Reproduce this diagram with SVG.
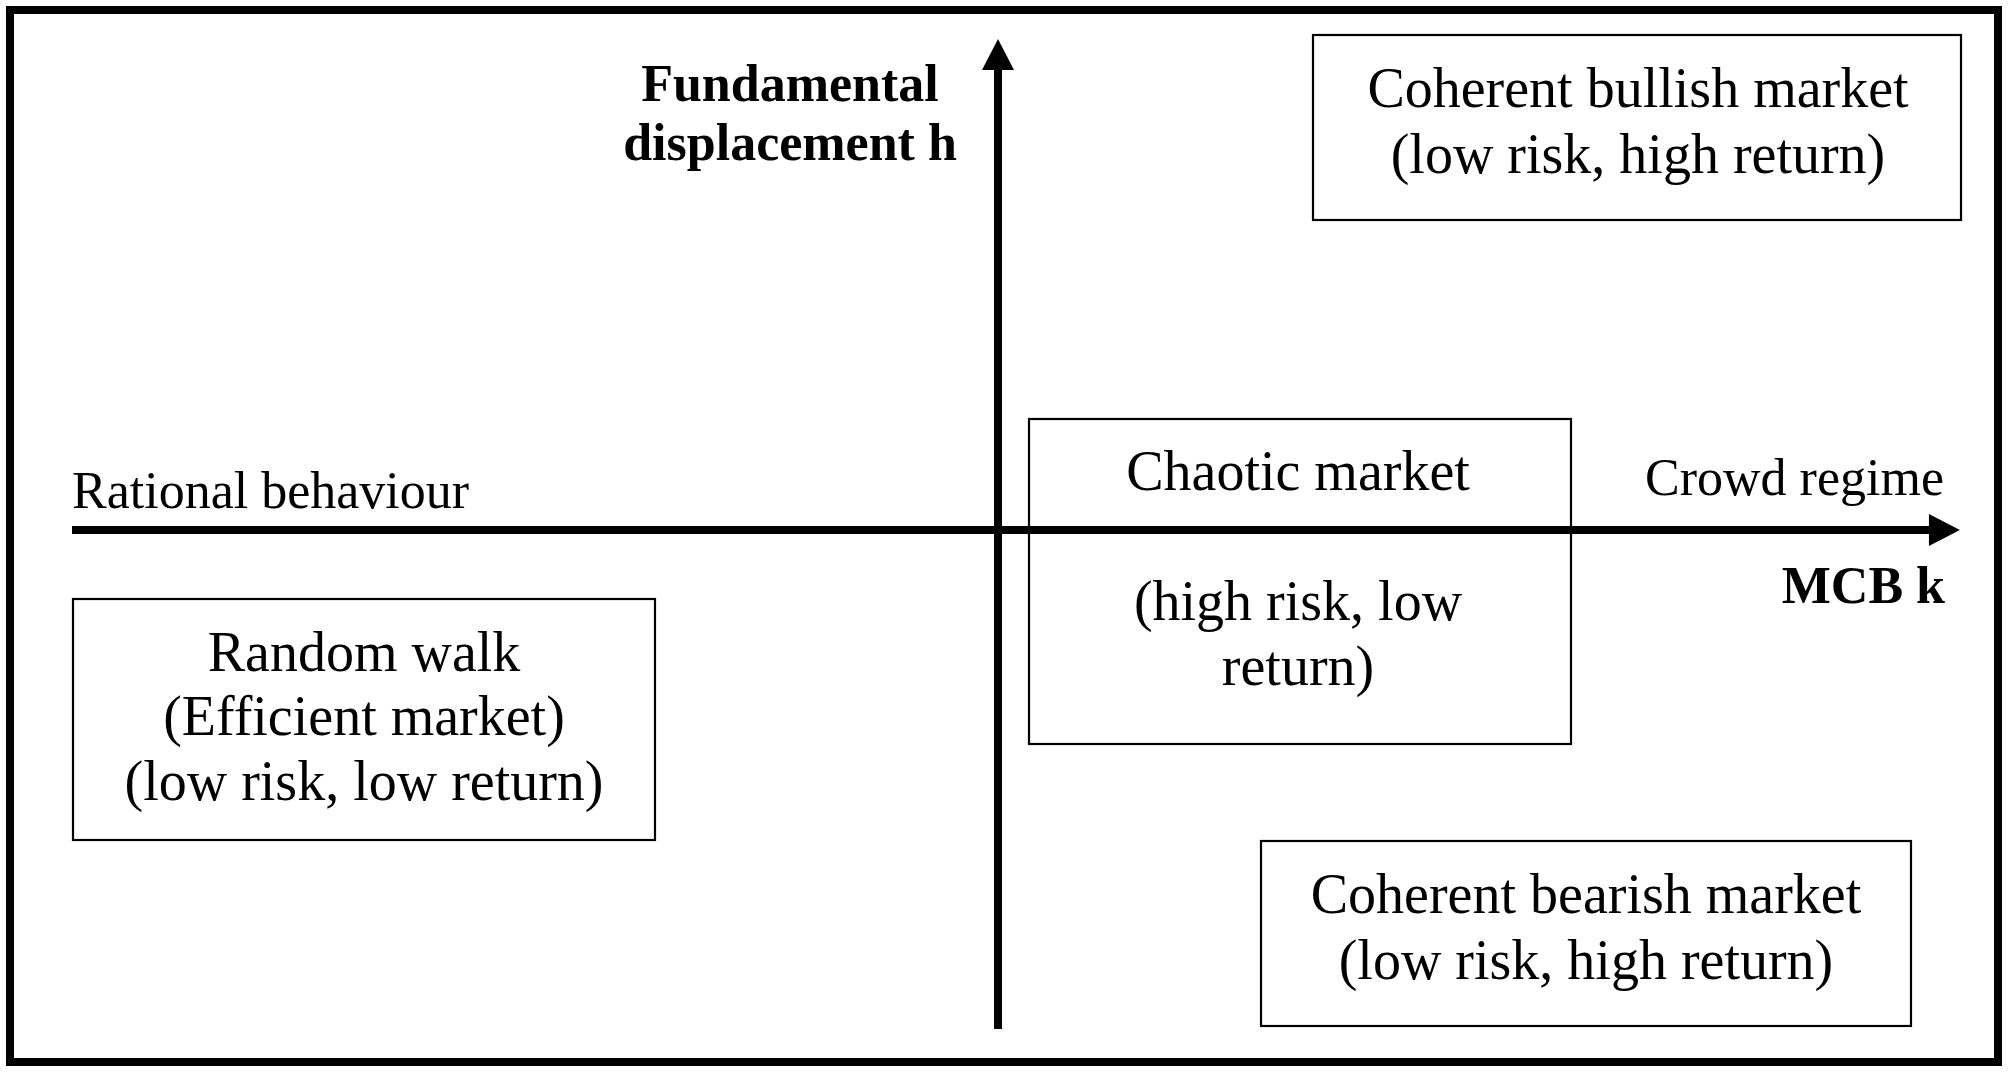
<svg xmlns="http://www.w3.org/2000/svg" width="2008" height="1072" viewBox="0 0 2008 1072">
<style>
text{font-family:"Liberation Serif","Times New Roman",serif;fill:#000}
.box{fill:none;stroke:#000;stroke-width:2.2}
.lbl{font-size:56px;text-anchor:middle}
.ax{font-size:52px}
.bold{font-weight:bold}
.axis{stroke:#000;stroke-width:8;fill:none}
</style>
<defs>
<marker id="arr" markerUnits="userSpaceOnUse" markerWidth="32" markerHeight="32" viewBox="0 0 30 31" refX="2" refY="15.5" orient="auto">
<path d="M0,0 L30,15.5 L0,31 Z" fill="#000"/>
</marker>
</defs>
<rect x="0" y="0" width="2008" height="1072" fill="#fff"/>
<rect x="10" y="10" width="1988" height="1052" fill="none" stroke="#000" stroke-width="8"/>
<g id="connectors">
<line class="axis" x1="72" y1="530" x2="1931" y2="530" marker-end="url(#arr)"/>
<line class="axis" x1="998" y1="1029" x2="998" y2="68" marker-end="url(#arr)"/>
</g>
<g id="axis-labels">
<text class="ax bold" x="790" y="101" text-anchor="middle">Fundamental</text>
<text class="ax bold" x="790" y="160" text-anchor="middle">displacement h</text>
<text class="ax" x="72" y="508">Rational behaviour</text>
<text class="ax" x="1944" y="495" text-anchor="end">Crowd regime</text>
<text class="ax bold" x="1945" y="603" text-anchor="end">MCB k</text>
</g>
<g id="node-bullish">
<rect class="box" x="1313" y="35" width="648" height="185"/>
<text class="lbl" x="1638" y="107">Coherent bullish market</text>
<text class="lbl" x="1638" y="173">(low risk, high return)</text>
</g>
<g id="node-chaotic">
<rect class="box" x="1029" y="419" width="542" height="325"/>
<text class="lbl" x="1298" y="490">Chaotic market</text>
<text class="lbl" x="1298" y="620">(high risk, low</text>
<text class="lbl" x="1298" y="685">return)</text>
</g>
<g id="node-random">
<rect class="box" x="73" y="599" width="582" height="241"/>
<text class="lbl" x="364" y="671">Random walk</text>
<text class="lbl" x="364" y="735">(Efficient market)</text>
<text class="lbl" x="364" y="800">(low risk, low return)</text>
</g>
<g id="node-bearish">
<rect class="box" x="1261" y="841" width="650" height="185"/>
<text class="lbl" x="1586" y="913">Coherent bearish market</text>
<text class="lbl" x="1586" y="979">(low risk, high return)</text>
</g>
</svg>
